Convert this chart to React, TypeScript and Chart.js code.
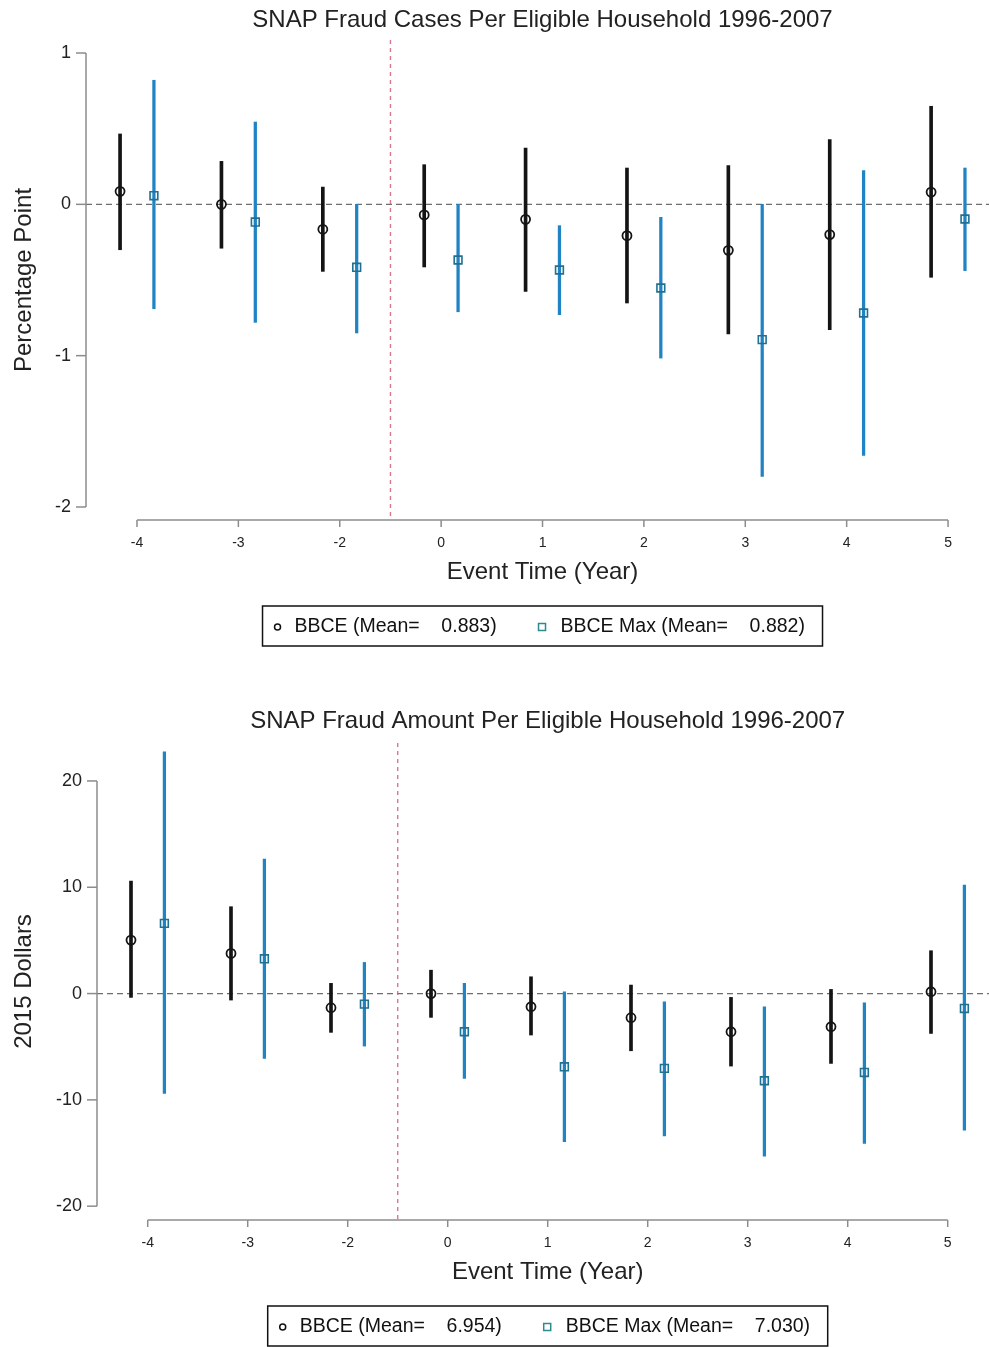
import React, { useEffect, useRef } from "react";
import { Chart, registerables } from "chart.js";

Chart.register(...registerables);

// Event-time categories (year -1 is the omitted reference year)
const timeLabels = ["-4", "-3", "-2", "0", "1", "2", "3", "4", "5"];

// Panel A: fraud cases per eligible household (percentage points)
const casesBbceEst = [0.086, 0.0, -0.165, -0.07, -0.099, -0.207, -0.304, -0.2, 0.081];
const casesBbceLo = [-0.3, -0.29, -0.443, -0.414, -0.575, -0.652, -0.857, -0.828, -0.482];
const casesBbceHi = [0.465, 0.284, 0.114, 0.262, 0.372, 0.24, 0.256, 0.428, 0.648];
const casesMaxEst = [0.057, -0.117, -0.416, -0.368, -0.434, -0.553, -0.894, -0.718, -0.097];
const casesMaxLo = [-0.69, -0.78, -0.85, -0.71, -0.729, -1.016, -1.798, -1.659, -0.438];
const casesMaxHi = [0.82, 0.544, 0.0, 0.0, -0.141, -0.086, 0.0, 0.223, 0.24];
const casesMeans = [0.883, 0.882];
const casesYTicks = [1, 0, -1, -2];

// Panel B: fraud amount per eligible household (2015 dollars)
const amountBbceEst = [5.03, 3.78, -1.33, 0.0, -1.24, -2.27, -3.59, -3.12, 0.17];
const amountBbceLo = [-0.36, -0.61, -3.65, -2.24, -3.9, -5.38, -6.82, -6.57, -3.75];
const amountBbceHi = [10.58, 8.17, 0.96, 2.2, 1.58, 0.8, -0.36, 0.39, 4.03];
const amountMaxEst = [6.6, 3.27, -0.99, -3.59, -6.89, -7.04, -8.2, -7.42, -1.4];
const amountMaxLo = [-9.39, -6.1, -4.94, -7.98, -13.94, -13.38, -15.29, -14.1, -12.84];
const amountMaxHi = [22.75, 12.65, 2.93, 0.96, 0.17, -0.77, -1.24, -0.86, 10.2];
const amountMeans = [6.954, 7.03];
const amountYTicks = [20, 10, 0, -10, -20];

const seriesNames = ["BBCE", "BBCE Max"];

const FONT = "'Liberation Sans', Arial, Helvetica, sans-serif";
const SHIFT = 0.167;
const EVENT_LINE = 2.5;

const BLACK = "#141414";
const BLUE_LINE = "#1f83c4";
const BLUE_MARK = "#22708f";
const LEGEND_SQUARE = "#2b8a94";
const AXIS = "#8c8c8c";

type PanelSpec = {
  title: string;
  yTitle: string;
  top: number;
  height: number;
  pad: { left: number; top: number; bottom: number };
  titleY: number;
  xMin: number;
  xMax: number;
  yMin: number;
  yMax: number;
  yTicks: number[];
  bbce: { est: number[]; lo: number[]; hi: number[] };
  max: { est: number[]; lo: number[]; hi: number[] };
  means: number[];
};

const panels: PanelSpec[] = [
  {
    title: "SNAP Fraud Cases Per Eligible Household 1996-2007",
    yTitle: "Percentage Point",
    top: 0,
    height: 660,
    pad: { left: 86, top: 40, bottom: 140 },
    titleY: 20,
    xMin: -0.503,
    xMax: 8.404,
    yMin: -2.086,
    yMax: 1.086,
    yTicks: casesYTicks,
    bbce: { est: casesBbceEst, lo: casesBbceLo, hi: casesBbceHi },
    max: { est: casesMaxEst, lo: casesMaxLo, hi: casesMaxHi },
    means: casesMeans,
  },
  {
    title: "SNAP Fraud Amount Per Eligible Household 1996-2007",
    yTitle: "2015 Dollars",
    top: 680,
    height: 667,
    pad: { left: 97, top: 63, bottom: 127 },
    titleY: 41,
    xMin: -0.507,
    xMax: 8.413,
    yMin: -21.3,
    yMax: 23.57,
    yTicks: amountYTicks,
    bbce: { est: amountBbceEst, lo: amountBbceLo, hi: amountBbceHi },
    max: { est: amountMaxEst, lo: amountMaxLo, hi: amountMaxHi },
    means: amountMeans,
  },
];

const legendText = (name: string, mean: number) =>
  `${name} (Mean=${mean.toFixed(3).padStart(9)})`;

function decorPlugin(spec: PanelSpec) {
  return {
    id: "panelDecor",
    beforeDatasetsDraw(chart: any) {
      const { ctx, chartArea, scales } = chart;
      const xs = scales.x;
      const ys = scales.y;
      ctx.save();
      // zero reference line
      const y0 = ys.getPixelForValue(0);
      ctx.strokeStyle = "#6e6e6e";
      ctx.lineWidth = 1.2;
      ctx.setLineDash([6, 4]);
      ctx.beginPath();
      ctx.moveTo(chartArea.left, y0);
      ctx.lineTo(chartArea.right, y0);
      ctx.stroke();
      // policy event line
      const xe = xs.getPixelForValue(EVENT_LINE);
      ctx.strokeStyle = "rgba(214, 96, 120, 0.85)";
      ctx.lineWidth = 1.4;
      ctx.setLineDash([4, 4]);
      ctx.beginPath();
      ctx.moveTo(xe, chartArea.top);
      ctx.lineTo(xe, chartArea.bottom);
      ctx.stroke();
      ctx.restore();
    },
    afterDraw(chart: any) {
      const { ctx, chartArea, scales } = chart;
      const xs = scales.x;
      const ys = scales.y;
      ctx.save();
      ctx.setLineDash([]);

      // y axis
      const yTop = ys.getPixelForValue(Math.max(...spec.yTicks));
      const yBot = ys.getPixelForValue(Math.min(...spec.yTicks));
      ctx.strokeStyle = AXIS;
      ctx.lineWidth = 1.5;
      ctx.beginPath();
      ctx.moveTo(chartArea.left, yTop);
      ctx.lineTo(chartArea.left, yBot);
      ctx.stroke();
      ctx.fillStyle = "#222";
      ctx.font = `18px ${FONT}`;
      ctx.textAlign = "right";
      ctx.textBaseline = "middle";
      spec.yTicks.forEach((v) => {
        const py = ys.getPixelForValue(v);
        ctx.beginPath();
        ctx.moveTo(chartArea.left - 10, py);
        ctx.lineTo(chartArea.left, py);
        ctx.stroke();
        ctx.fillText(String(v), chartArea.left - 15, py);
      });

      // x axis
      const xFirst = xs.getPixelForValue(0);
      const xLast = xs.getPixelForValue(timeLabels.length - 1);
      const xb = chartArea.bottom;
      ctx.beginPath();
      ctx.moveTo(xFirst, xb);
      ctx.lineTo(xLast, xb);
      ctx.stroke();
      ctx.font = `14px ${FONT}`;
      ctx.textAlign = "center";
      timeLabels.forEach((lab, i) => {
        const px = xs.getPixelForValue(i);
        ctx.beginPath();
        ctx.moveTo(px, xb);
        ctx.lineTo(px, xb + 7);
        ctx.stroke();
        ctx.fillText(lab, px, xb + 23);
      });

      const cx = (xFirst + xLast) / 2;
      ctx.font = `24px ${FONT}`;
      ctx.fillText("Event Time (Year)", cx, xb + 52);
      ctx.fillText(spec.title, cx, spec.titleY);

      // y title
      ctx.save();
      ctx.translate(24, (chartArea.top + chartArea.bottom) / 2);
      ctx.rotate(-Math.PI / 2);
      ctx.fillText(spec.yTitle, 0, 0);
      ctx.restore();

      // legend box
      const bw = 560;
      const bh = 40;
      const bx = cx - bw / 2;
      const by = xb + 86;
      ctx.strokeStyle = "#111";
      ctx.lineWidth = 1.5;
      ctx.strokeRect(bx, by, bw, bh);
      const ly = by + bh / 2 + 1;
      ctx.lineWidth = 1.5;
      ctx.strokeStyle = "#111";
      ctx.beginPath();
      ctx.arc(bx + 15, ly, 3, 0, Math.PI * 2);
      ctx.stroke();
      ctx.strokeStyle = LEGEND_SQUARE;
      ctx.strokeRect(bx + 276, ly - 3.5, 7, 7);
      ctx.font = `19.5px ${FONT}`;
      ctx.textAlign = "left";
      ctx.fillStyle = "#111";
      ctx.fillText(legendText(seriesNames[0], spec.means[0]), bx + 32, ly);
      ctx.fillText(legendText(seriesNames[1], spec.means[1]), bx + 298, ly);

      ctx.restore();
    },
  };
}

function Panel({ spec }: { spec: PanelSpec }) {
  const ref = useRef<HTMLCanvasElement>(null);

  useEffect(() => {
    if (!ref.current) return;
    const pos = timeLabels.map((_, i) => i);
    const chart = new Chart(ref.current, {
      type: "bar",
      data: {
        datasets: [
          {
            type: "scatter",
            label: seriesNames[0],
            data: pos.map((p, i) => ({ x: p - SHIFT, y: spec.bbce.est[i] })),
            pointStyle: "circle",
            pointRadius: 4.5,
            pointBorderWidth: 1.8,
            pointBorderColor: BLACK,
            pointBackgroundColor: "rgba(0,0,0,0)",
            showLine: false,
            order: 0,
          },
          {
            type: "scatter",
            label: seriesNames[1],
            data: pos.map((p, i) => ({ x: p + SHIFT, y: spec.max.est[i] })),
            pointStyle: "rect",
            pointRadius: 5.5,
            pointBorderWidth: 1.6,
            pointBorderColor: BLUE_MARK,
            pointBackgroundColor: "rgba(0,0,0,0)",
            showLine: false,
            order: 0,
          },
          {
            type: "bar",
            label: seriesNames[0] + " CI",
            data: pos.map((p, i) => ({ x: p - SHIFT, y: [spec.bbce.lo[i], spec.bbce.hi[i]] })),
            backgroundColor: BLACK,
            borderWidth: 0,
            barThickness: 3,
            grouped: false,
            order: 1,
          },
          {
            type: "bar",
            label: seriesNames[1] + " CI",
            data: pos.map((p, i) => ({ x: p + SHIFT, y: [spec.max.lo[i], spec.max.hi[i]] })),
            backgroundColor: BLUE_LINE,
            borderWidth: 0,
            barThickness: 2.6,
            grouped: false,
            order: 1,
          },
        ] as any,
      },
      options: {
        responsive: false,
        animation: false,
        events: [],
        layout: {
          autoPadding: false,
          padding: { left: spec.pad.left, top: spec.pad.top, right: 0, bottom: spec.pad.bottom },
        },
        scales: {
          x: { type: "linear", min: spec.xMin, max: spec.xMax, display: false, offset: false },
          y: { type: "linear", min: spec.yMin, max: spec.yMax, display: false },
        },
        plugins: {
          legend: { display: false },
          tooltip: { enabled: false },
          title: { display: false },
        },
      } as any,
      plugins: [decorPlugin(spec)],
    });
    return () => chart.destroy();
  }, [spec]);

  return (
    <canvas
      ref={ref}
      width={989}
      height={spec.height}
      style={{ position: "absolute", left: 0, top: spec.top, width: 989, height: spec.height }}
    />
  );
}

export default function App() {
  return (
    <div style={{ position: "absolute", left: 0, top: 0, width: 989, height: 1347, background: "#fff" }}>
      {panels.map((p) => (
        <Panel key={p.title} spec={p} />
      ))}
    </div>
  );
}
